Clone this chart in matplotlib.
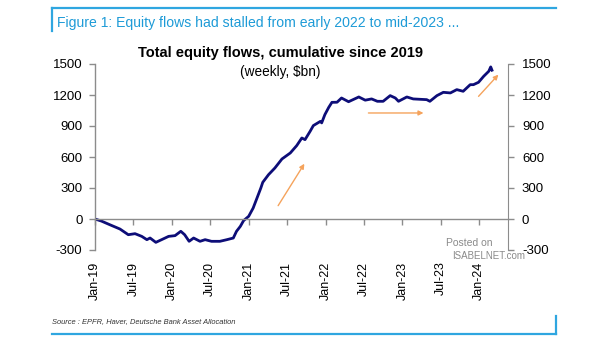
import matplotlib
matplotlib.use("Agg")
import matplotlib.pyplot as plt
from matplotlib.lines import Line2D

plt.rcParams['font.family'] = ['Liberation Sans', 'DejaVu Sans']
plt.rcParams['axes.unicode_minus'] = False

# months since Jan-2019, cumulative equity flows ($bn)
months = [0, 1, 2.3, 3.9, 5.2, 6.25, 7.3, 8.1, 8.6, 9.5, 10.4, 11.5, 12.5, 13.4, 14,
          14.7, 15.4, 16.4, 17.2, 18.2, 19.5, 20.6, 21.6, 22.1, 22.7, 23.2, 24, 24.7,
          25.4, 25.9, 26.2, 27.1, 28.1, 29.2, 30.5, 31.5, 32.3, 32.8, 33.6, 34.1, 35.2,
          35.4, 35.9, 36.5, 37, 37.8, 38.5, 39.6, 41.2, 42.2, 43.2, 44.1, 45, 46.1,
          46.9, 47.4, 48.7, 49.7, 51.8, 52.3, 53.4, 54.4, 55.5, 56.5, 57.5, 58.6, 59.1,
          59.9, 60.7, 61.5, 61.8, 62]
flows = [0, -20, -55, -97, -152, -142, -168, -200, -184, -226, -200, -168, -161, -119, -152,
         -216, -184, -216, -200, -216, -216, -200, -184, -119, -71, -16, 26, 106,
         219, 300, 355, 429, 494, 581, 639, 710, 784, 768, 849, 904, 945,
         930, 1010, 1080, 1129, 1130, 1171, 1135, 1181, 1150, 1162, 1139, 1139, 1194,
         1171, 1139, 1181, 1162, 1155, 1139, 1194, 1226, 1220, 1252, 1236, 1300, 1300,
         1323, 1381, 1430, 1472, 1440]

x_tick_pos = [0, 6, 12, 18, 24, 30, 36, 42, 48, 54, 60]
x_tick_labels = ['Jan-19', 'Jul-19', 'Jan-20', 'Jul-20', 'Jan-21', 'Jul-21', 'Jan-22',
                 'Jul-22', 'Jan-23', 'Jul-23', 'Jan-24']
y_ticks = [-300, 0, 300, 600, 900, 1200, 1500]

# arrow annotations: (x0, y0, x1, y1) in data units
arrows = [(28.6, 129, 32.7, 535), (42.7, 1026, 51.3, 1026), (59.9, 1187, 63.0, 1397)]

W, H = 605, 341
fig = plt.figure(figsize=(W / 100, H / 100), dpi=100)
ax = fig.add_axes([95 / W, 1 - 250 / H, (508 - 95) / W, (250 - 64) / H])

ax.plot(months, flows, color='#0d0d78', lw=2.0, solid_joinstyle='round')
ax.set_xlim(0, 64.5)
ax.set_ylim(-300, 1500)

gray = '#8c8c8c'
for s in ['top', 'right']:
    ax.spines[s].set_visible(False)
ax.spines['bottom'].set_position(('data', 0))
ax.spines['bottom'].set_color(gray)
ax.spines['left'].set_color(gray)
ax.spines['bottom'].set_linewidth(1)
ax.spines['left'].set_linewidth(1)

ax.set_xticks(x_tick_pos)
ax.set_xticklabels(x_tick_labels, rotation=90, va='top', ha='center')
ax.tick_params(axis='x', direction='out', length=4, width=1, color=gray,
               pad=26.6, labelsize=9)
ax.set_yticks(y_ticks)
ax.tick_params(axis='y', direction='out', length=4, width=1, color=gray,
               pad=5, labelsize=9.5)

ax2 = ax.twinx()
ax2.set_ylim(-300, 1500)
ax2.set_yticks(y_ticks)
for s in ['top', 'left', 'bottom']:
    ax2.spines[s].set_visible(False)
ax2.spines['right'].set_color(gray)
ax2.tick_params(axis='y', direction='out', length=4, width=1, color=gray,
                pad=6, labelsize=9.5)

for (x0, y0, x1, y1) in arrows:
    ax.annotate('', xy=(x1, y1), xytext=(x0, y0),
                arrowprops=dict(arrowstyle='-|>', color='#f5a35c', lw=1.0,
                                mutation_scale=7, shrinkA=0, shrinkB=0))

def fit(t, width_px):
    fig.canvas.draw()
    bb = t.get_window_extent(fig.canvas.get_renderer())
    t.set_fontsize(t.get_fontsize() * width_px / bb.width)

t1 = fig.text(57 / W, 1 - 23 / H, 'Figure 1: Equity flows had stalled from early 2022 to mid-2023 ...',
              color='#1e9bd7', fontsize=10, ha='left', va='center')
fit(t1, 402)
t2 = fig.text(280 / W, 1 - 53 / H, 'Total equity flows, cumulative since 2019',
              family=['Liberation Sans Narrow', 'Liberation Sans'], weight='bold',
              fontsize=12, ha='center', va='center', color='black')
fit(t2, 284)
t3 = fig.text(280 / W, 1 - 72 / H, '(weekly, $bn)', fontsize=9, ha='center', va='center')
fit(t3, 80)
t4 = fig.text(52 / W, 1 - 322 / H, 'Source : EPFR, Haver, Deutsche Bank Asset Allocation',
              fontsize=6, style='italic', color='#333333', ha='left', va='center')
fit(t4, 185)

fig.text(446 / W, 1 - 243 / H, 'Posted on', fontsize=7.5, color='#8a8a8a', ha='left', va='center')
fig.text(452 / W, 1 - 256 / H, 'ISABELNET.com', fontsize=7, color='#8a8a8a', ha='left', va='center')

blue = '#2fa6e0'
lw = 1.6
fig.add_artist(Line2D([52 / W, 556 / W], [1 - 8 / H, 1 - 8 / H], color=blue, lw=lw, transform=fig.transFigure))
fig.add_artist(Line2D([52 / W, 52 / W], [1 - 8 / H, 1 - 31 / H], color=blue, lw=lw, transform=fig.transFigure))
fig.add_artist(Line2D([52 / W, 556 / W], [1 - 334 / H, 1 - 334 / H], color=blue, lw=lw, transform=fig.transFigure))
fig.add_artist(Line2D([556 / W, 556 / W], [1 - 334 / H, 1 - 316 / H], color=blue, lw=lw, transform=fig.transFigure))

fig.savefig('out.png', dpi=100)
